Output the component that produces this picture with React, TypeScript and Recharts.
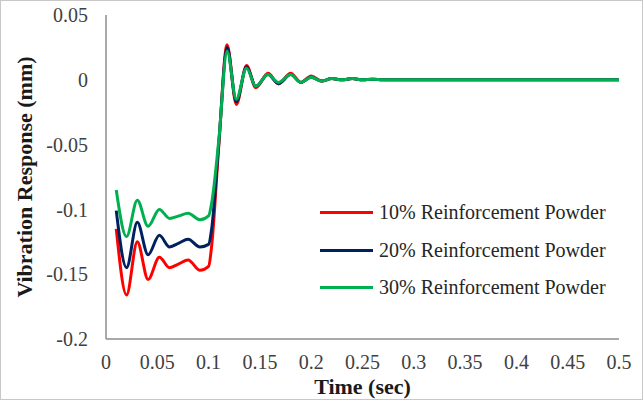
import React from 'react';
import { LineChart, Line, XAxis, YAxis, Legend } from 'recharts';

// time in seconds
const TIME = [
  0.01, 0.02, 0.0305, 0.041, 0.052, 0.062, 0.071, 0.08, 0.0916, 0.1, 0.103, 0.11, 0.118,
  0.127, 0.137, 0.146, 0.158, 0.168, 0.18, 0.19, 0.2, 0.21, 0.22, 0.23, 0.24, 0.25,
  0.26, 0.27, 0.3, 0.35, 0.4, 0.45, 0.5,
];

// vibration response (mm) for each powder content
const R10 = [
  -0.115, -0.166, -0.125, -0.154, -0.137, -0.145, -0.142, -0.139, -0.147, -0.144, -0.128, -0.05, 0.027,
  -0.019, 0.011, -0.006, 0.005, -0.003, 0.005, -0.002, 0.003, -0.001, 0.001, 0, 0.001, 0,
  0.0005, 0, 0, 0, 0, 0, 0,
];
const R20 = [
  -0.101, -0.145, -0.11, -0.135, -0.12, -0.129, -0.126, -0.123, -0.129, -0.127, -0.115, -0.048, 0.025,
  -0.017, 0.01, -0.005, 0.004, -0.003, 0.004, -0.002, 0.002, -0.001, 0.001, 0, 0.001, 0,
  0.0005, 0, 0, 0, 0, 0, 0,
];
const R30 = [
  -0.085, -0.121, -0.093, -0.113, -0.1, -0.107, -0.105, -0.103, -0.108, -0.105, -0.095, -0.046, 0.022,
  -0.015, 0.009, -0.005, 0.004, -0.002, 0.004, -0.002, 0.002, -0.001, 0.001, 0, 0.001, 0,
  0.0005, 0, 0, 0, 0, 0, 0,
];

const SERIES = [
  { key: 'r10', name: '10% Reinforcement Powder', color: '#ff0000' },
  { key: 'r20', name: '20% Reinforcement Powder', color: '#002060' },
  { key: 'r30', name: '30% Reinforcement Powder', color: '#00b050' },
];

const X_TICKS = [0, 0.05, 0.1, 0.15, 0.2, 0.25, 0.3, 0.35, 0.4, 0.45, 0.5];
const Y_TICKS = [-0.2, -0.15, -0.1, -0.05, 0, 0.05];

const data = TIME.map((t, i) => ({ t, r10: R10[i], r20: R20[i], r30: R30[i] }));

const FONT = 'Liberation Serif, serif';

const LegendBox = (props: any) => {
  const items = props.payload || [];
  return (
    <div style={{ fontFamily: FONT, fontSize: 20, color: '#262626' }}>
      {items.map((it: any) => (
        <div key={it.value} style={{ display: 'flex', alignItems: 'center', height: 37.5 }}>
          <div style={{ width: 53, height: 3, background: it.color, marginRight: 6 }} />
          <span style={{ whiteSpace: 'nowrap' }}>{it.value}</span>
        </div>
      ))}
    </div>
  );
};

const App: React.FC = () => {
  return (
    <div
      style={{
        position: 'absolute',
        left: 0,
        top: 0,
        width: 643,
        height: 402,
        background: '#fff',
        fontFamily: FONT,
      }}
    >
      <div
        style={{
          position: 'absolute',
          left: 0,
          top: 0,
          width: 641,
          height: 398,
          border: '1px solid #c8c8c8',
          pointerEvents: 'none',
        }}
      />
      <LineChart
        width={643}
        height={402}
        data={data}
        margin={{ top: 15, right: 24, bottom: 0, left: 0 }}
        style={{ fontFamily: FONT }}
      >
        <XAxis
          dataKey="t"
          type="number"
          domain={[0, 0.5]}
          ticks={X_TICKS}
          tickLine={false}
          tickMargin={10}
          height={63}
          stroke="#8c8c8c"
          strokeWidth={1.5}
          tick={{ fill: '#404040', fontSize: 20, fontFamily: FONT, style: { fontFamily: FONT } }}
          label={{
            value: 'Time (sec)',
            position: 'insideBottom',
            offset: 8,
            style: { fill: '#1a1a1a', fontSize: 22, fontWeight: 'bold', fontFamily: FONT },
          }}
        />
        <YAxis
          type="number"
          domain={[-0.2, 0.05]}
          ticks={Y_TICKS}
          tickLine={false}
          tickMargin={12}
          width={106}
          stroke="#8c8c8c"
          strokeWidth={1.5}
          tick={{ fill: '#404040', fontSize: 20, fontFamily: FONT, style: { fontFamily: FONT } }}
          label={{
            value: 'Vibration Response (mm)',
            angle: -90,
            position: 'insideLeft',
            offset: 24,
            style: { textAnchor: 'middle', fill: '#1a1a1a', fontSize: 22, fontWeight: 'bold', fontFamily: FONT },
          }}
        />
        <Legend
          layout="vertical"
          align="center"
          verticalAlign="middle"
          content={<LegendBox />}
          wrapperStyle={{ position: 'absolute', left: 320, top: 194, width: 310 }}
        />
        {SERIES.map((s) => (
          <Line
            key={s.key}
            type="monotone"
            dataKey={s.key}
            name={s.name}
            stroke={s.color}
            strokeWidth={3}
            dot={false}
            isAnimationActive={false}
          />
        ))}
      </LineChart>
    </div>
  );
};

export default App;
